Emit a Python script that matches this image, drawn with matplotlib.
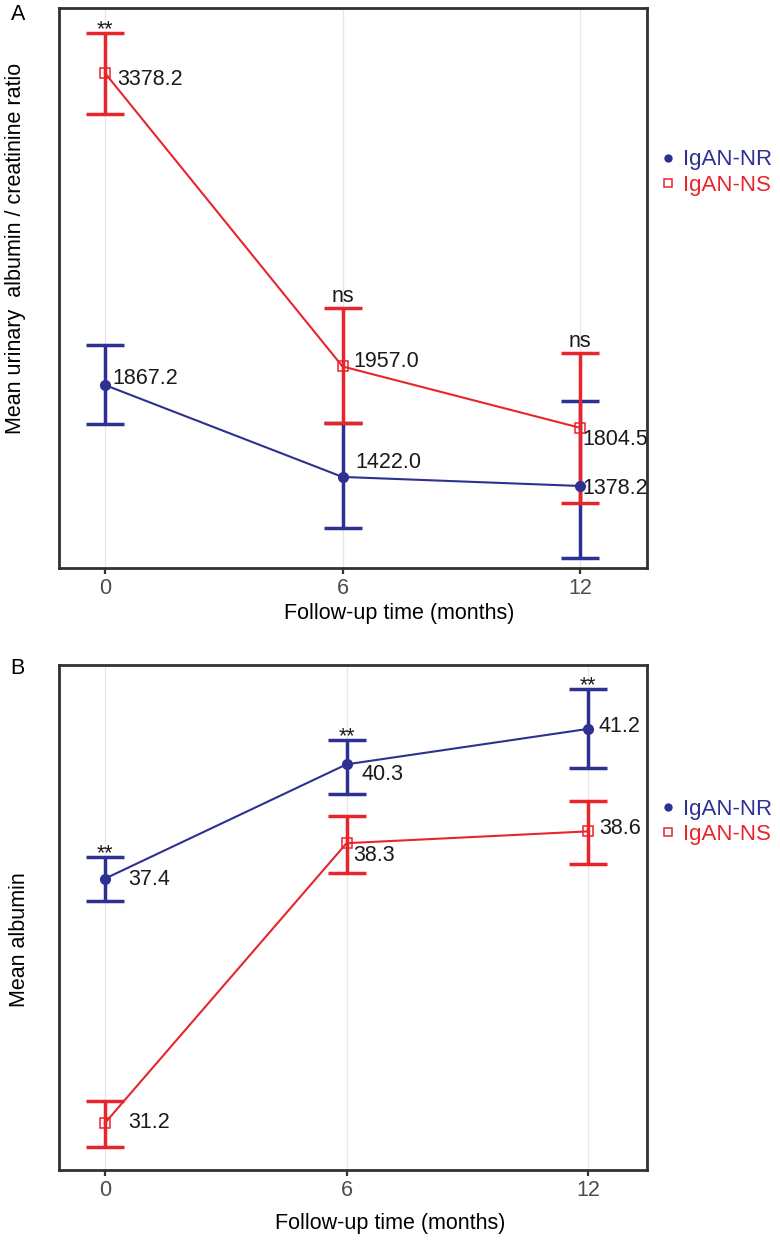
import matplotlib
matplotlib.use("Agg")
import matplotlib.pyplot as plt
from matplotlib.lines import Line2D

plt.rcParams['font.family'] = ['Liberation Sans', 'DejaVu Sans']

months = [0, 6, 12]
groups = ['IgAN-NR', 'IgAN-NS']

# Panel A - urinary albumin / creatinine ratio (mean with error bar ends)
acr_nr_mean = [1867.2, 1422.0, 1378.2]
acr_nr_low = [1678, 1175, 1029]
acr_nr_high = [2061, 1683, 1790]
acr_ns_mean = [3378.2, 1957.0, 1660]
acr_ns_low = [3179, 1683, 1296]
acr_ns_high = [3572, 2240, 2022]
acr_nr_text = ['1867.2', '1422.0', '1378.2']
acr_ns_text = ['3378.2', '1957.0', '1804.5']
acr_sig = ['**', 'ns', 'ns']

# Panel B - serum albumin
alb_nr_mean = [37.4, 40.3, 41.2]
alb_nr_low = [36.83, 39.55, 40.21]
alb_nr_high = [37.95, 40.92, 42.21]
alb_ns_mean = [31.2, 38.3, 38.6]
alb_ns_low = [30.59, 37.55, 37.77]
alb_ns_high = [31.76, 38.99, 39.37]
alb_nr_text = ['37.4', '40.3', '41.2']
alb_ns_text = ['31.2', '38.3', '38.6']
alb_sig = ['**', '**', '**']

BLUE = '#2e3092'
RED = '#e8252b'
FS = 15.5
W, H = 780, 1241


def draw_panel(ax, nr, ns, sig, nr_off, ns_off):
    """nr / ns are (mean, low, high, text) tuples"""
    ax.set_facecolor('white')
    for x in months:
        ax.axvline(x, color='#e6e6e6', lw=0.9, zorder=0)

    for i, (series, color) in enumerate([(nr, BLUE), (ns, RED)]):
        mean, low, high, _ = series
        yerr = [[m - l for m, l in zip(mean, low)],
                [h - m for m, h in zip(mean, high)]]
        ax.errorbar(months, mean, yerr=yerr, fmt='none', ecolor=color,
                    elinewidth=2.5, capsize=14, capthick=2.5, zorder=2 + i)

    ax.plot(months, nr[0], color=BLUE, lw=1.5, marker='o', ms=7,
            mfc=BLUE, mec=BLUE, zorder=4)
    ax.plot(months, ns[0], color=RED, lw=1.5, marker='s', ms=7.5,
            mfc='none', mec=RED, mew=1.1, zorder=5)

    # value labels
    for series, offs in [(nr, nr_off), (ns, ns_off)]:
        mean, _, _, text = series
        for x, y, t, (dx, dy) in zip(months, mean, text, offs):
            ax.annotate(t, (x, y), xytext=(dx, dy), textcoords='offset pixels',
                        ha='left', va='center', fontsize=FS, color='#1a1a1a',
                        zorder=6)

    # significance marks above the highest error bar
    sig_dy = {'**': 3, 'ns': 12}
    for x, s, h1, h2 in zip(months, sig, nr[2], ns[2]):
        ax.annotate(s, (x, max(h1, h2)), xytext=(0, sig_dy[s]),
                    textcoords='offset pixels', ha='center', va='center',
                    fontsize=FS, color='#1a1a1a')

    ax.set_xticks(months)
    ax.set_xticklabels([str(m) for m in months])
    ax.set_yticks([])
    ax.tick_params(axis='x', length=4, width=1.6, color='#333333',
                   labelsize=FS, labelcolor='#4d4d4d', pad=3)
    for sp in ax.spines.values():
        sp.set_color('#35302d')
        sp.set_linewidth(2)


fig = plt.figure(figsize=(W / 100, H / 100), dpi=100)

# panel A
axA = fig.add_axes([59 / W, 1 - 568 / H, 588 / W, 560 / H])
draw_panel(axA,
           (acr_nr_mean, acr_nr_low, acr_nr_high, acr_nr_text),
           (acr_ns_mean, acr_ns_low, acr_ns_high, acr_ns_text),
           acr_sig,
           nr_off=[(7, 7), (13, 14), (2, -3)],
           ns_off=[(12, -6), (11, 5), (2, -12)])
axA.set_xlim(-1.16, 13.69)
axA.set_ylim(981, 3693)
axA.set_xlabel('Follow-up time (months)', fontsize=FS)
axA.xaxis.set_label_coords((399 - 59) / 588, -45 / 560)
axA.xaxis.label.set_va('center')
axA.set_ylabel('Mean urinary  albumin / creatinine ratio', fontsize=FS)
axA.yaxis.set_label_coords((16 - 59) / 588, (568 - 248) / 560)
axA.yaxis.label.set_va('center')

# panel B
axB = fig.add_axes([59 / W, 1 - 1170 / H, 588 / W, 505 / H])
draw_panel(axB,
           (alb_nr_mean, alb_nr_low, alb_nr_high, alb_nr_text),
           (alb_ns_mean, alb_ns_low, alb_ns_high, alb_ns_text),
           alb_sig,
           nr_off=[(23, -1), (15, -10), (10, 2)],
           ns_off=[(23, 1), (7, -12), (11, 3)])
axB.set_xlim(-1.14, 13.46)
axB.set_ylim(30.01, 42.82)
axB.set_xlabel('Follow-up time (months)', fontsize=FS)
axB.xaxis.set_label_coords((390 - 59) / 588, -53 / 505)
axB.xaxis.label.set_va('center')
axB.set_ylabel('Mean albumin', fontsize=FS)
axB.yaxis.set_label_coords((20 - 59) / 588, (1170 - 940) / 505)
axB.yaxis.label.set_va('center')

# legends
for ax, yc in [(axA, 172.5), (axB, 822)]:
    handles = [Line2D([], [], marker='o', ls='none', color=BLUE, ms=5),
               Line2D([], [], marker='s', ls='none', mfc='none', mec=RED,
                      mew=1.1, ms=5.5)]
    ax.legend(handles, groups, labelcolor=[BLUE, RED], loc='center left',
              bbox_to_anchor=(662 / W, 1 - yc / H),
              bbox_transform=fig.transFigure, frameon=False,
              handlelength=0.5, handletextpad=0.45, labelspacing=0.2,
              borderpad=0, borderaxespad=0, fontsize=FS + 0.5)

# panel letters
fig.text(18 / W, 1 - 15 / H, 'A', fontsize=FS, ha='center', va='center')
fig.text(17 / W, 1 - 668 / H, 'B', fontsize=FS, ha='center', va='center')

fig.savefig('out.png', dpi=100, facecolor='white')
